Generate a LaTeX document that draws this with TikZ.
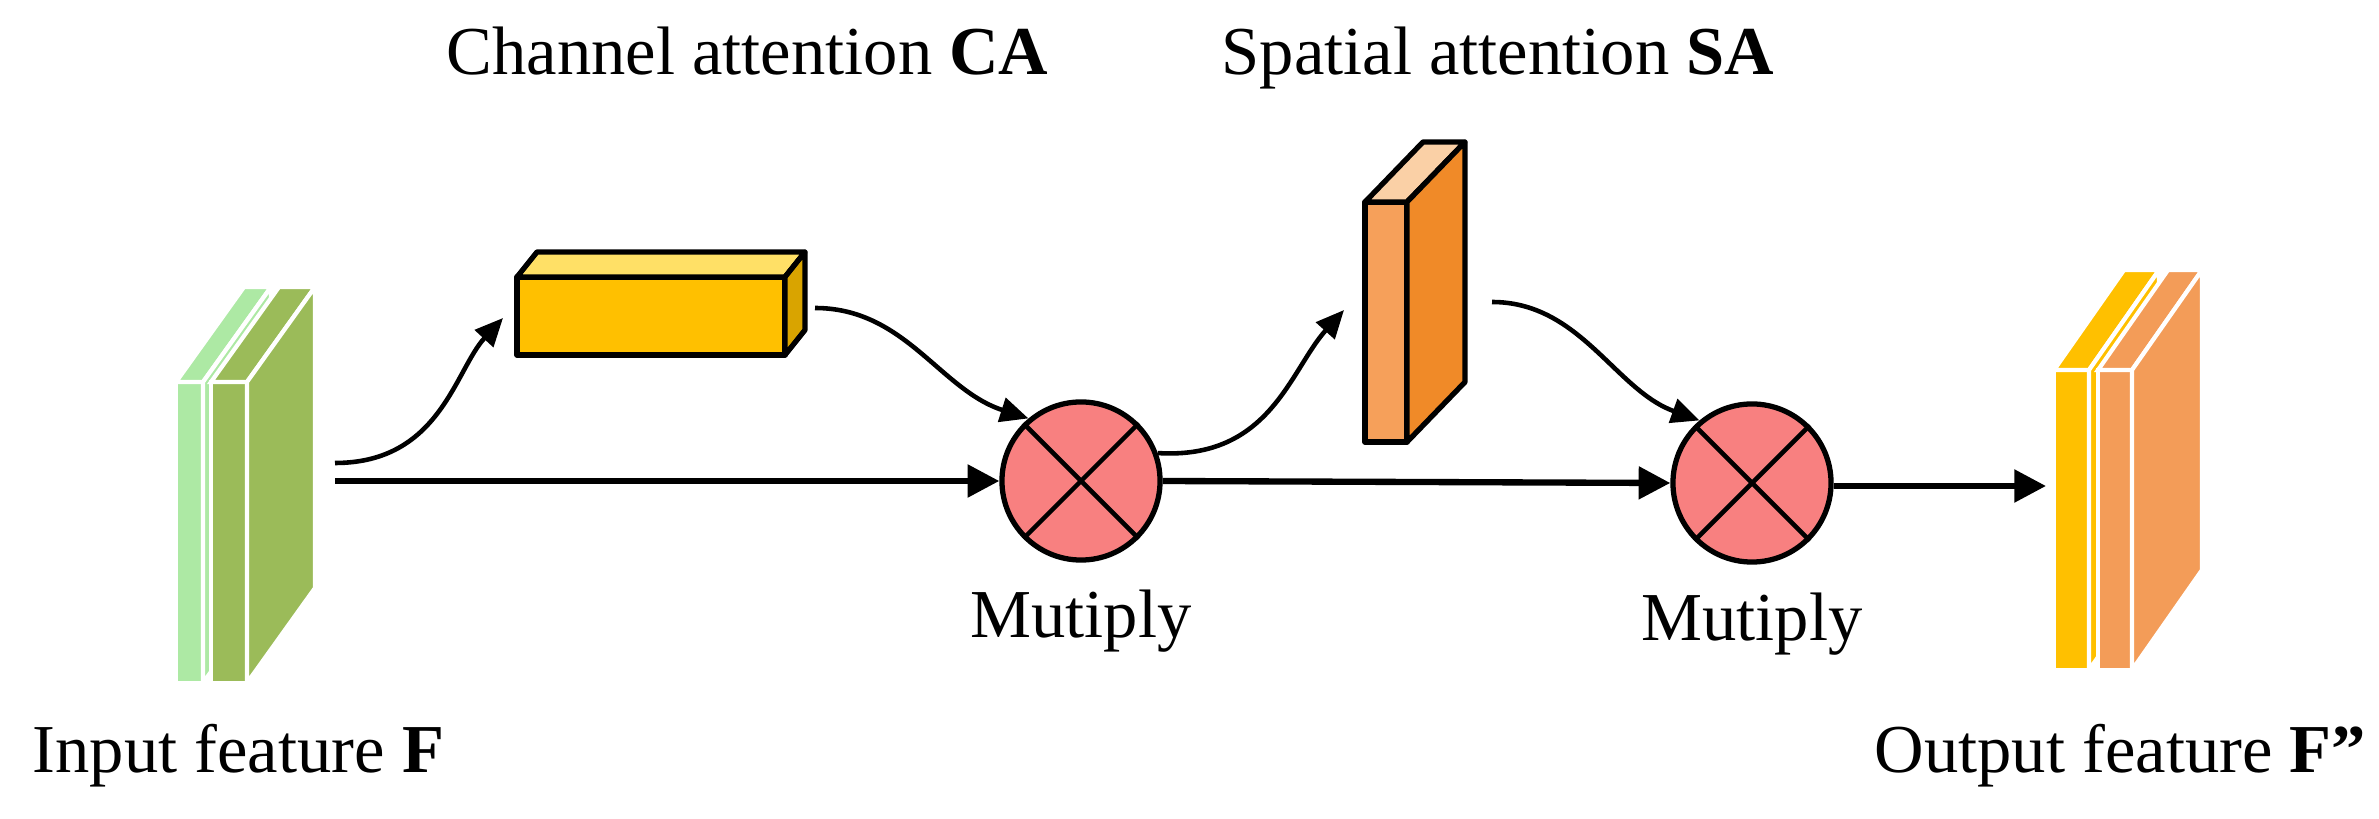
\documentclass[tikz,border=0pt]{standalone}
\usepackage{fontspec}
\setmainfont{Liberation Serif}
\usetikzlibrary{arrows.meta}
\definecolor{lgreen}{HTML}{ADE9A4}
\definecolor{dgreen}{HTML}{9BBB59}
\definecolor{cagold}{HTML}{FFC000}
\definecolor{catop}{HTML}{FFE066}
\definecolor{caside}{HTML}{D9A400}
\definecolor{safront}{HTML}{F6A05A}
\definecolor{saside}{HTML}{F08A28}
\definecolor{satop}{HTML}{FAD0A6}
\definecolor{outor}{HTML}{F39C58}
\definecolor{mulred}{HTML}{F88080}
\newcommand\mybox[9]{% x1 x2 ytop ybot dx dy front top side
  \fill[#7] (#1,#3) rectangle (#2,#4);
  \draw (#1,#3) rectangle (#2,#4);
  \filldraw[fill=#8] (#1,#3) -- ++(#5,#6) -- ($(#2,#3)+(#5,#6)$) -- (#2,#3) -- cycle;
  \filldraw[fill=#9] (#2,#3) -- ++(#5,#6) -- ($(#2,#4)+(#5,#6)$) -- (#2,#4) -- cycle;
}
\usetikzlibrary{calc}
\begin{document}
\begin{tikzpicture}[x=0.01cm,y=-0.01cm,
  lbl/.style={font=\fontsize{19.5}{22}\selectfont, inner sep=0pt},
  main/.style={line width=1.8pt,-{Triangle[length=9pt,width=9pt]}},
  curv/.style={line width=1.3pt,-{Triangle[length=8pt,width=7pt]}},
  mul/.style={circle,draw,line width=1.5pt,fill=mulred,minimum size=1.58cm,inner sep=0pt}]
\useasboundingbox (0,0) rectangle (2379,819);
% input feature
\begin{scope}[draw=white,line width=1.2pt]
\mybox{176}{203}{382}{683}{68}{-95}{lgreen}{lgreen}{lgreen}
\mybox{211}{247}{382}{683}{68}{-95}{dgreen}{dgreen}{dgreen}
\end{scope}
% output feature
\begin{scope}[draw=white,line width=1.2pt]
\mybox{2054}{2089}{370}{670}{70}{-100}{cagold}{cagold}{cagold}
\mybox{2098}{2132}{370}{670}{70}{-100}{outor}{outor}{outor}
\end{scope}
% CA
\begin{scope}[draw=black,line width=1.5pt,line join=round]
\mybox{517}{785}{277}{355}{20}{-25}{cagold}{catop}{caside}
\mybox{1365}{1407}{202}{442}{58}{-60}{safront}{satop}{saside}
\end{scope}
\coordinate (inR) at (335,481);
\coordinate (inC) at (335,463);
\coordinate (caL) at (503,318);
\coordinate (caR) at (815,308);
\coordinate (saL) at (1344,310);
\coordinate (saR) at (1492,302);
\coordinate (outL) at (2046,486);
\node[mul] (m1) at (1081,481) {};
\node[mul] (m2) at (1752,483) {};
\draw[line width=1.3pt] (m1.north west) -- (m1.south east) (m1.north east) -- (m1.south west);
\draw[line width=1.3pt] (m2.north west) -- (m2.south east) (m2.north east) -- (m2.south west);
\draw[main] (inR) -- (m1.west);
\draw[main] (m1.east) -- (m2.west);
\draw[main] (m2.east |- outL) -- (outL);
\draw[curv] (inC) .. controls (440,463) and (455,370) .. (caL);
\draw[curv] (caR) .. controls (905,308) and (940,390) .. (m1.130);
\draw[curv] (m1.20) .. controls (1270,460) and (1290,370) .. (saL);
\draw[curv] (saR) .. controls (1580,302) and (1615,390) .. (m2.130);
\node[lbl,anchor=base] (t1) at (1081,638) {Mutiply};
\node[lbl,anchor=base] (t2) at (1752,640) {Mutiply};
\node[lbl,anchor=base west] (ca) at (446,75) {Channel attention \textbf{CA}};
\node[lbl,anchor=base west] (sa) at (1221,75) {Spatial attention \textbf{SA}};
\node[lbl,anchor=base west] (fi) at (32,772) {Input feature \textbf{F}};
\node[lbl,anchor=base west] (fo) at (1874,772) {Output feature \textbf{F"}};
\end{tikzpicture}
\end{document}
